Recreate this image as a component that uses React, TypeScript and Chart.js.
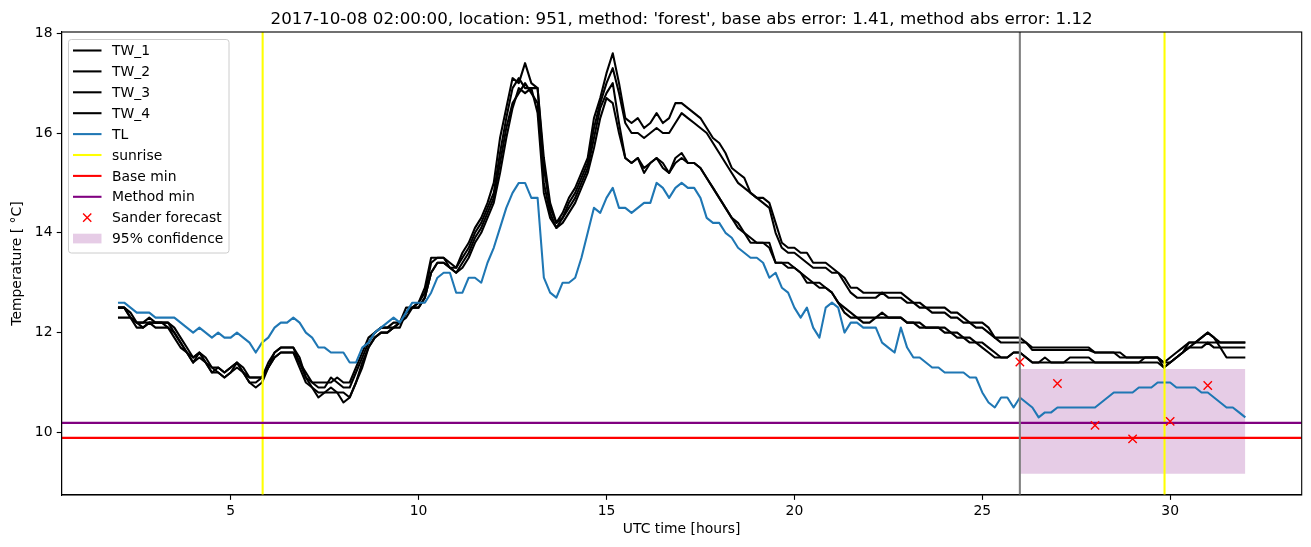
import React, { useEffect, useRef } from "react";
import { Chart, registerables } from "chart.js";

Chart.register(...registerables);

// ---- sampling grid (10-minute readings starting at 02:00 UTC) ----
const START_HOUR = 2;
const STEP_MINUTES = 10;

// ---- series values (°C) ----
const tw1 = [
  12.5, 12.5, 12.4, 12.2, 12.2, 12.3,
  12.2, 12.2, 12.2, 12.1, 11.9, 11.7,
  11.5, 11.6, 11.5, 11.3, 11.3, 11.2,
  11.3, 11.4, 11.3, 11.1, 11.1, 11.1,
  11.4, 11.6, 11.7, 11.7, 11.7, 11.4,
  11.2, 11.0, 11.0, 11.0, 11.0, 11.1,
  11.0, 11.0, 11.3, 11.6, 11.9, 12.0,
  12.1, 12.1, 12.2, 12.2, 12.5, 12.5,
  12.6, 12.9, 13.5, 13.5, 13.5, 13.4,
  13.3, 13.6, 13.8, 14.1, 14.3, 14.6,
  15.0, 15.9, 16.5, 17.1, 17.0, 17.4,
  17.0, 16.9, 15.5, 14.6, 14.2, 14.4,
  14.7, 14.9, 15.2, 15.5, 16.3, 16.7,
  17.2, 17.6, 17.0, 16.3, 16.2, 16.3,
  16.1, 16.2, 16.4, 16.2, 16.3, 16.6,
  16.6, 16.5, 16.4, 16.3, 16.1, 15.9,
  15.8, 15.6, 15.3, 15.2, 15.1, 14.8,
  14.7, 14.7, 14.6, 14.2, 13.8, 13.7,
  13.7, 13.6, 13.6, 13.4, 13.4, 13.4,
  13.3, 13.2, 13.1, 12.9, 12.9, 12.8,
  12.8, 12.8, 12.8, 12.8, 12.8, 12.8,
  12.7, 12.6, 12.6, 12.5, 12.5, 12.5,
  12.5, 12.4, 12.4, 12.3, 12.2, 12.2,
  12.2, 12.1, 11.9, 11.9, 11.9, 11.9,
  11.9, 11.8, 11.7, 11.7, 11.7, 11.7,
  11.7, 11.7, 11.7, 11.7, 11.7, 11.7,
  11.6, 11.6, 11.6, 11.6, 11.6, 11.5,
  11.5, 11.5, 11.5, 11.5, 11.5, 11.4,
  11.5, 11.6, 11.7, 11.8, 11.8, 11.9,
  12.0, 11.9, 11.8, 11.8, 11.8, 11.8,
  11.8,
];

const tw2 = [
  12.5, 12.5, 12.3, 12.2, 12.2, 12.2,
  12.2, 12.2, 12.2, 12.0, 11.8, 11.6,
  11.4, 11.6, 11.4, 11.2, 11.3, 11.2,
  11.3, 11.4, 11.2, 11.1, 11.1, 11.1,
  11.3, 11.6, 11.7, 11.7, 11.7, 11.5,
  11.1, 11.0, 10.9, 10.9, 11.1, 11.0,
  10.9, 10.9, 11.2, 11.5, 11.8, 12.0,
  12.1, 12.1, 12.1, 12.2, 12.4, 12.5,
  12.6, 12.8, 13.4, 13.5, 13.5, 13.3,
  13.3, 13.5, 13.7, 14.0, 14.2, 14.5,
  14.8, 15.6, 16.3, 16.9, 17.1, 16.9,
  16.9, 16.9, 15.3, 14.5, 14.2, 14.3,
  14.6, 14.8, 15.1, 15.4, 16.1, 16.6,
  17.0, 17.3, 16.8, 16.2, 16.0, 16.0,
  15.9, 16.0, 16.1, 16.0, 16.0, 16.2,
  16.4, 16.3, 16.2, 16.1, 16.0, 15.8,
  15.6, 15.4, 15.2, 15.0, 14.9, 14.8,
  14.7, 14.6, 14.5, 14.0, 13.7, 13.6,
  13.6, 13.5, 13.4, 13.3, 13.3, 13.3,
  13.2, 13.2, 13.0, 12.8, 12.7, 12.7,
  12.7, 12.7, 12.8, 12.7, 12.7, 12.7,
  12.6, 12.6, 12.5, 12.5, 12.4, 12.4,
  12.4, 12.3, 12.3, 12.2, 12.2, 12.1,
  12.1, 12.0, 11.9, 11.8, 11.8, 11.8,
  11.8, 11.8, 11.65, 11.65, 11.65, 11.65,
  11.65, 11.65, 11.65, 11.65, 11.65, 11.65,
  11.6, 11.6, 11.6, 11.6, 11.5, 11.5,
  11.5, 11.5, 11.5, 11.5, 11.5, 11.4,
  11.4, 11.5, 11.6, 11.7, 11.7, 11.7,
  11.8, 11.7, 11.7, 11.7, 11.7, 11.7,
  11.7,
];

const tw3 = [
  12.5, 12.5, 12.3, 12.1, 12.1, 12.2,
  12.1, 12.1, 12.1, 12.0, 11.8, 11.6,
  11.5, 11.6, 11.4, 11.3, 11.2, 11.1,
  11.2, 11.4, 11.2, 11.0, 11.0, 11.1,
  11.3, 11.5, 11.6, 11.6, 11.6, 11.4,
  11.1, 10.9, 10.8, 10.8, 10.9, 10.8,
  10.8, 10.7, 11.0, 11.4, 11.7, 11.9,
  12.0, 12.0, 12.1, 12.1, 12.4, 12.5,
  12.5, 12.7, 13.2, 13.4, 13.4, 13.3,
  13.2, 13.4, 13.6, 13.9, 14.1, 14.4,
  14.7, 15.4, 16.1, 16.6, 16.8, 17.0,
  16.8, 16.6, 15.0, 14.4, 14.1, 14.3,
  14.5, 14.7, 15.0, 15.3, 15.9, 16.5,
  16.8, 17.0, 16.2, 15.5, 15.4, 15.5,
  15.3, 15.4, 15.5, 15.3, 15.2, 15.5,
  15.6, 15.4, 15.4, 15.3, 15.1, 14.9,
  14.7, 14.5, 14.3, 14.2, 14.0, 13.9,
  13.8, 13.8, 13.8, 13.4, 13.4, 13.3,
  13.3, 13.2, 13.1, 13.0, 13.0, 12.9,
  12.8, 12.6, 12.5, 12.4, 12.3, 12.3,
  12.3, 12.3, 12.4, 12.3, 12.3, 12.3,
  12.2, 12.2, 12.2, 12.1, 12.1, 12.1,
  12.1, 12.0, 12.0, 11.9, 11.9, 11.8,
  11.8, 11.7, 11.6, 11.5, 11.5, 11.6,
  11.6, 11.5, 11.4, 11.4, 11.5, 11.4,
  11.4, 11.4, 11.5, 11.5, 11.5, 11.5,
  11.4, 11.4, 11.4, 11.4, 11.4, 11.4,
  11.4, 11.4, 11.5, 11.5, 11.5, 11.3,
  11.4, 11.5, 11.6, 11.8, 11.8, 11.9,
  12.0, 11.9, 11.7, 11.5, 11.5, 11.5,
  11.5,
];

const tw4 = [
  12.3, 12.3, 12.3, 12.2, 12.1, 12.2,
  12.2, 12.2, 12.1, 11.9, 11.7, 11.6,
  11.4, 11.5, 11.4, 11.2, 11.2, 11.1,
  11.2, 11.3, 11.2, 11.0, 10.9, 11.0,
  11.3, 11.5, 11.6, 11.6, 11.6, 11.3,
  11.0, 10.9, 10.7, 10.8, 10.8, 10.8,
  10.6, 10.7, 11.0, 11.3, 11.7, 11.9,
  12.0, 12.0, 12.1, 12.2, 12.3, 12.5,
  12.5, 12.7, 13.2, 13.4, 13.4, 13.3,
  13.2, 13.3, 13.5, 13.8, 14.0, 14.3,
  14.6, 15.2, 15.9, 16.5, 16.9, 16.8,
  16.9, 16.4, 14.8, 14.3, 14.1, 14.2,
  14.4, 14.6, 14.9, 15.2, 15.7, 16.3,
  16.7, 16.6, 16.0, 15.5, 15.4, 15.5,
  15.2, 15.4, 15.5, 15.4, 15.2, 15.4,
  15.5, 15.4, 15.4, 15.3, 15.1, 14.9,
  14.7, 14.5, 14.3, 14.1, 14.0, 13.8,
  13.8, 13.8, 13.7, 13.4, 13.4, 13.4,
  13.3, 13.2, 13.0, 13.0, 12.9, 12.9,
  12.8, 12.6, 12.4, 12.3, 12.3, 12.2,
  12.2, 12.3, 12.3, 12.3, 12.3, 12.3,
  12.2, 12.2, 12.1, 12.1, 12.1, 12.1,
  12.0, 12.0, 11.9, 11.9, 11.8, 11.8,
  11.7, 11.6, 11.5, 11.5, 11.5, 11.6,
  11.6, 11.5, 11.4, 11.4, 11.4, 11.4,
  11.4, 11.4, 11.4, 11.4, 11.4, 11.4,
  11.4, 11.4, 11.4, 11.4, 11.4, 11.4,
  11.4, 11.4, 11.4, 11.4, 11.4, 11.3,
  11.4, 11.5, 11.6, 11.7, 11.8, 11.8,
  11.8, 11.8, 11.8, 11.8, 11.8, 11.8,
  11.8,
];

const tl = [
  12.6, 12.6, 12.5, 12.4, 12.4, 12.4,
  12.3, 12.3, 12.3, 12.3, 12.2, 12.1,
  12.0, 12.1, 12.0, 11.9, 12.0, 11.9,
  11.9, 12.0, 11.9, 11.8, 11.6, 11.8,
  11.9, 12.1, 12.2, 12.2, 12.3, 12.2,
  12.0, 11.9, 11.7, 11.7, 11.6, 11.6,
  11.6, 11.4, 11.4, 11.7, 11.8, 12.0,
  12.1, 12.2, 12.3, 12.2, 12.4, 12.6,
  12.6, 12.6, 12.8, 13.1, 13.2, 13.2,
  12.8, 12.8, 13.1, 13.1, 13.0, 13.4,
  13.7, 14.1, 14.5, 14.8, 15.0, 15.0,
  14.7, 14.7, 13.1, 12.8, 12.7, 13.0,
  13.0, 13.1, 13.5, 14.0, 14.5, 14.4,
  14.7, 14.9, 14.5, 14.5, 14.4, 14.5,
  14.6, 14.6, 15.0, 14.9, 14.7, 14.9,
  15.0, 14.9, 14.9, 14.7, 14.3, 14.2,
  14.2, 14.0, 13.9, 13.7, 13.6, 13.5,
  13.5, 13.4, 13.1, 13.2, 12.9, 12.8,
  12.5, 12.3, 12.5, 12.1, 11.9, 12.5,
  12.6, 12.5, 12.0, 12.2, 12.2, 12.1,
  12.1, 12.1, 11.8, 11.7, 11.6, 12.1,
  11.7, 11.5, 11.5, 11.4, 11.3, 11.3,
  11.2, 11.2, 11.2, 11.2, 11.1, 11.1,
  10.8, 10.6, 10.5, 10.7, 10.7, 10.5,
  10.7, 10.6, 10.5, 10.3, 10.4, 10.4,
  10.5, 10.5, 10.5, 10.5, 10.5, 10.5,
  10.5, 10.6, 10.7, 10.8, 10.8, 10.8,
  10.8, 10.9, 10.9, 10.9, 11.0, 11.0,
  11.0, 10.9, 10.9, 10.9, 10.9, 10.8,
  10.8, 10.7, 10.6, 10.5, 10.5, 10.4,
  10.3,
];

const forecastHours = [26, 27, 28, 29, 30, 31];
const forecastValues = [11.41, 10.98, 10.14, 9.87, 10.22, 10.94];

const confidenceHours = [26, 32];
const confidenceLow = [9.17, 9.17];
const confidenceHigh = [11.27, 11.27];

const sunriseHours = [5.85, 29.85];
const forecastStartHour = 26;
const baseMin = 9.89;
const methodMin = 10.19;

const xTicks = [5, 10, 15, 20, 25, 30];
const yTicks = [10, 12, 14, 16, 18];
const X_MIN = 0.5;
const X_MAX = 33.5;
const Y_MIN = 8.745;
const Y_MAX = 18.025;

const TITLE =
  "2017-10-08 02:00:00, location: 951, method: 'forest', base abs error: 1.41, method abs error: 1.12";
const X_LABEL = "UTC time [hours]";
const Y_LABEL = "Temperature [ °C]";

const FONT = "'DejaVu Sans', 'Liberation Sans', sans-serif";
const BLUE = "#1f77b4";
const CONF_FILL = "rgba(128,0,128,0.2)";
const LW = 2.08; // 1.5 pt at 100 dpi
const SPINE = 1.11; // 0.8 pt
const TICK_LEN = 4.86; // 3.5 pt

const hours = tl.map((_, i) => START_HOUR + (i * STEP_MINUTES) / 60);

type LegendItem = { label: string; kind: "line" | "marker" | "patch"; color: string };
const legendItems: LegendItem[] = [
  { label: "TW_1", kind: "line", color: "#000000" },
  { label: "TW_2", kind: "line", color: "#000000" },
  { label: "TW_3", kind: "line", color: "#000000" },
  { label: "TW_4", kind: "line", color: "#000000" },
  { label: "TL", kind: "line", color: BLUE },
  { label: "sunrise", kind: "line", color: "#ffff00" },
  { label: "Base min", kind: "line", color: "#ff0000" },
  { label: "Method min", kind: "line", color: "#800080" },
  { label: "Sander forecast", kind: "marker", color: "#ff0000" },
  { label: "95% confidence", kind: "patch", color: CONF_FILL },
];

const decorPlugin = {
  id: "decor",
  afterDatasetsDraw(chart: any) {
    const { ctx, chartArea: a } = chart;
    ctx.save();
    ctx.strokeStyle = "#000";
    ctx.lineWidth = SPINE;
    ctx.strokeRect(a.left, a.top, a.right - a.left, a.bottom - a.top);
    ctx.restore();
  },
  afterDraw(chart: any) {
    const { ctx, chartArea: a } = chart;
    const cx = (a.left + a.right) / 2;
    ctx.save();
    ctx.fillStyle = "#000";
    // title
    ctx.font = `16.7px ${FONT}`;
    ctx.textAlign = "center";
    ctx.textBaseline = "alphabetic";
    ctx.fillText(TITLE, cx, a.top - 8.5);
    // x label
    ctx.font = `13.9px ${FONT}`;
    ctx.textBaseline = "middle";
    ctx.fillText(X_LABEL, cx, 529);
    // y label
    ctx.save();
    ctx.translate(17.5, (a.top + a.bottom) / 2);
    ctx.rotate(-Math.PI / 2);
    ctx.fillText(Y_LABEL, 0, 0);
    ctx.restore();

    // legend
    const bx = 68.5, by = 39.5, bw = 160.5, bh = 213.5, r = 2.8;
    ctx.beginPath();
    ctx.moveTo(bx + r, by);
    ctx.lineTo(bx + bw - r, by);
    ctx.arcTo(bx + bw, by, bx + bw, by + r, r);
    ctx.lineTo(bx + bw, by + bh - r);
    ctx.arcTo(bx + bw, by + bh, bx + bw - r, by + bh, r);
    ctx.lineTo(bx + r, by + bh);
    ctx.arcTo(bx, by + bh, bx, by + bh - r, r);
    ctx.lineTo(bx, by + r);
    ctx.arcTo(bx, by, bx + r, by, r);
    ctx.closePath();
    ctx.fillStyle = "rgba(255,255,255,0.8)";
    ctx.fill();
    ctx.strokeStyle = "#cccccc";
    ctx.lineWidth = 1;
    ctx.stroke();

    ctx.font = `13.9px ${FONT}`;
    ctx.textAlign = "left";
    ctx.textBaseline = "middle";
    legendItems.forEach((it, i) => {
      const y = 50.5 + i * 20.9;
      if (it.kind === "line") {
        ctx.strokeStyle = it.color;
        ctx.lineWidth = LW;
        ctx.beginPath();
        ctx.moveTo(73, y);
        ctx.lineTo(101.5, y);
        ctx.stroke();
      } else if (it.kind === "marker") {
        ctx.strokeStyle = it.color;
        ctx.lineWidth = 1.39;
        const c = 87.2, h = 4.1;
        ctx.beginPath();
        ctx.moveTo(c - h, y - h);
        ctx.lineTo(c + h, y + h);
        ctx.moveTo(c - h, y + h);
        ctx.lineTo(c + h, y - h);
        ctx.stroke();
      } else {
        ctx.fillStyle = it.color;
        ctx.fillRect(73, y - 4.9, 28.5, 9.7);
      }
      ctx.fillStyle = "#000";
      ctx.fillText(it.label, 112, y + 1);
    });
    ctx.restore();
  },
};

export default function App() {
  const ref = useRef<HTMLCanvasElement>(null);

  useEffect(() => {
    document.body.style.margin = "0";
    const canvas = ref.current;
    if (!canvas) return;

    const series = (ys: number[]) => ys.map((y, i) => ({ x: hours[i], y }));
    const line = (label: string, data: any[], color: string, order: number, width = LW) => ({
      type: "line",
      label,
      data,
      borderColor: color,
      backgroundColor: color,
      borderWidth: width,
      borderJoinStyle: "round",
      pointRadius: 0,
      fill: false,
      tension: 0,
      order,
    });
    const vline = (x: number) => [
      { x, y: Y_MIN },
      { x, y: Y_MAX },
    ];
    const hline = (y: number) => [
      { x: X_MIN, y },
      { x: X_MAX, y },
    ];

    const datasets: any[] = [
      line("conf_low", confidenceHours.map((x, i) => ({ x, y: confidenceLow[i] })), "rgba(0,0,0,0)", 100, 0),
      {
        ...line("95% confidence", confidenceHours.map((x, i) => ({ x, y: confidenceHigh[i] })), "rgba(0,0,0,0)", 99, 0),
        fill: { target: 0 },
        backgroundColor: CONF_FILL,
      },
      line("TW_1", series(tw1), "#000000", 30),
      line("TW_2", series(tw2), "#000000", 29),
      line("TW_3", series(tw3), "#000000", 28),
      line("TW_4", series(tw4), "#000000", 27),
      line("TL", series(tl), BLUE, 26),
      line("sunrise", vline(sunriseHours[0]), "#ffff00", 25),
      line("sunrise2", vline(sunriseHours[1]), "#ffff00", 24),
      line("Base min", hline(baseMin), "#ff0000", 23),
      line("Method min", hline(methodMin), "#800080", 22),
      line("forecast start", vline(forecastStartHour), "#808080", 21),
      {
        type: "line",
        label: "Sander forecast",
        data: forecastHours.map((x, i) => ({ x, y: forecastValues[i] })),
        showLine: false,
        pointStyle: "crossRot",
        pointRadius: 5.9,
        pointBorderWidth: 1.39,
        borderColor: "#ff0000",
        backgroundColor: "#ff0000",
        order: 1,
      },
    ];

    const tickFont = { family: FONT, size: 13.9 };
    const grid = {
      display: true,
      drawOnChartArea: false,
      drawTicks: true,
      tickLength: TICK_LEN,
      tickWidth: SPINE,
      tickColor: "#000",
    };

    const chart = new Chart(canvas, {
      type: "line",
      data: { datasets },
      plugins: [decorPlugin],
      options: {
        responsive: false,
        devicePixelRatio: 1,
        animation: false,
        events: [],
        layout: { padding: { left: 0, top: 32, right: 9.3, bottom: 0 } },
        plugins: {
          legend: { display: false },
          title: { display: false },
          tooltip: { enabled: false },
        },
        scales: {
          x: {
            type: "linear",
            min: X_MIN,
            max: X_MAX,
            afterBuildTicks: (ax: any) => {
              ax.ticks = xTicks.map((v) => ({ value: v }));
            },
            afterFit: (ax: any) => {
              ax.height = 52;
            },
            ticks: {
              font: tickFont,
              color: "#000",
              padding: 3.5,
              maxRotation: 0,
              autoSkip: false,
            },
            grid,
            border: { display: true, color: "#000", width: SPINE },
          },
          y: {
            type: "linear",
            min: Y_MIN,
            max: Y_MAX,
            afterBuildTicks: (ax: any) => {
              ax.ticks = yTicks.map((v) => ({ value: v }));
            },
            afterFit: (ax: any) => {
              ax.width = 61.6;
            },
            ticks: {
              font: tickFont,
              color: "#000",
              padding: 4.2,
              autoSkip: false,
            },
            grid,
            border: { display: true, color: "#000", width: SPINE },
          },
        },
      } as any,
    });

    return () => chart.destroy();
  }, []);

  return <canvas ref={ref} width={1311} height={547} style={{ display: "block" }} />;
}
